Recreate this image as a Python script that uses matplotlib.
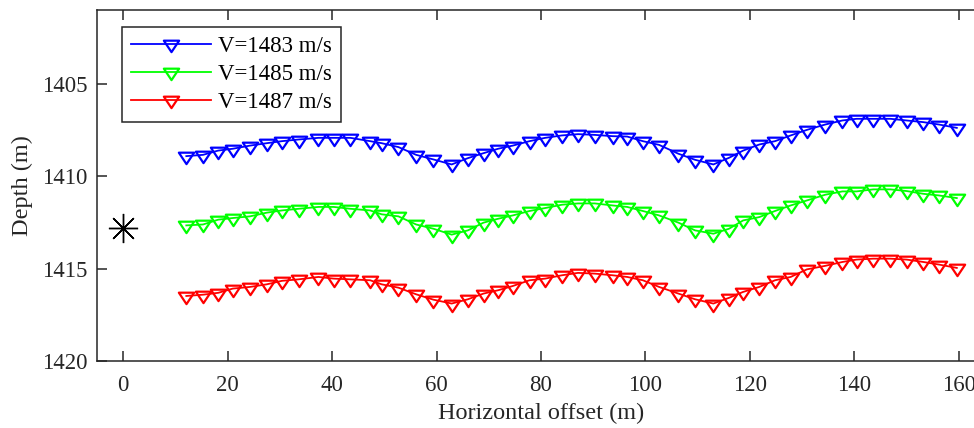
import matplotlib
matplotlib.use('Agg')
import matplotlib.pyplot as plt
from matplotlib.path import Path

plt.rcParams['font.family'] = ['Liberation Serif', 'DejaVu Serif']
plt.rcParams['font.size'] = 16.5

# receiver positions (m), shared by all three velocity models
offset = [12.1, 15.3, 18.2, 21.0, 24.3, 27.5, 30.4, 33.6, 37.4, 40.3, 43.5, 47.3,
          49.5, 52.7, 56.1, 59.4, 62.9, 66.0, 69.0, 71.8, 74.6, 77.8, 80.8, 84.0,
          87.1, 90.3, 93.7, 96.5, 99.5, 102.6, 106.3, 109.5, 113.0, 116.0, 118.7,
          121.8, 124.8, 127.8, 130.9, 134.4, 137.7, 140.4, 143.6, 146.9, 150.0,
          153.2, 156.2, 159.6]

depth_1483 = [1408.91, 1408.84, 1408.61, 1408.51, 1408.34, 1408.21, 1408.10, 1408.01,
              1407.92, 1407.92, 1407.92, 1408.10, 1408.21, 1408.42, 1408.84, 1409.09,
              1409.36, 1409.02, 1408.75, 1408.51, 1408.34, 1408.10, 1407.92, 1407.79,
              1407.72, 1407.76, 1407.83, 1407.85, 1408.10, 1408.30, 1408.78, 1409.11,
              1409.36, 1409.00, 1408.61, 1408.28, 1408.10, 1407.79, 1407.49, 1407.20,
              1406.98, 1406.89, 1406.89, 1406.89, 1406.98, 1407.07, 1407.20, 1407.38]

depth_1485 = [1412.66, 1412.61, 1412.35, 1412.26, 1412.17, 1411.97, 1411.85, 1411.76,
              1411.66, 1411.66, 1411.76, 1411.85, 1412.06, 1412.17, 1412.61, 1412.84,
              1413.16, 1412.93, 1412.51, 1412.30, 1412.12, 1411.88, 1411.72, 1411.54,
              1411.47, 1411.47, 1411.58, 1411.66, 1411.88, 1412.12, 1412.51, 1412.93,
              1413.11, 1412.84, 1412.39, 1412.21, 1411.88, 1411.58, 1411.31, 1411.00,
              1410.82, 1410.82, 1410.71, 1410.71, 1410.80, 1410.95, 1411.04, 1411.18]

depth_1487 = [1416.48, 1416.41, 1416.31, 1416.08, 1415.99, 1415.85, 1415.66, 1415.58,
              1415.45, 1415.54, 1415.58, 1415.63, 1415.85, 1416.03, 1416.39, 1416.68,
              1416.89, 1416.66, 1416.35, 1416.17, 1415.94, 1415.63, 1415.54, 1415.36,
              1415.23, 1415.27, 1415.36, 1415.45, 1415.63, 1415.99, 1416.35, 1416.66,
              1416.89, 1416.58, 1416.26, 1415.99, 1415.63, 1415.45, 1415.04, 1414.85,
              1414.64, 1414.51, 1414.46, 1414.46, 1414.51, 1414.64, 1414.78, 1414.96]

labels = ['V=1483 m/s', 'V=1485 m/s', 'V=1487 m/s']
colors = ['#0000ff', '#00ff00', '#ff0000']

source_x = [0]
source_z = [1412.8]

# downward triangle centred on its centroid (like MATLAB 'v')
tri_down = Path([(-1, 0.5), (1, 0.5), (0, -1), (-1, 0.5)],
                [Path.MOVETO, Path.LINETO, Path.LINETO, Path.CLOSEPOLY])

axc = '#262626'
fig = plt.figure(figsize=(9.74, 4.28), dpi=100)
ax = fig.add_axes([97 / 974, 67 / 428, 888 / 974, 351 / 428])

for z, lab, c in zip([depth_1483, depth_1485, depth_1487], labels, colors):
    ax.plot(offset, z, color=c, linewidth=1.3, marker=tri_down, markersize=11,
            markerfacecolor='none', markeredgecolor=c, markeredgewidth=1.6, label=lab)

ax.plot(source_x, source_z, linestyle='none', marker=(8, 2, 0), markersize=21,
        markeredgecolor='black', markeredgewidth=1.0, color='black')

ax.set_xlim(-5, 165)
ax.set_ylim(1420, 1401)
ax.set_xticks(range(0, 161, 20))
ax.set_yticks([1405, 1410, 1415, 1420])

for s in ax.spines.values():
    s.set_color(axc)
    s.set_linewidth(1.1)
ax.tick_params(direction='in', length=7.5, width=1.1, color=axc, labelcolor=axc,
               top=True, right=True, labelsize=16.5)
ax.tick_params(axis='x', pad=10)
ax.tick_params(axis='y', pad=7)

ax.set_xlabel('Horizontal offset (m)', color=axc, fontsize=17.5, labelpad=5)
ax.set_ylabel('Depth (m)', color=axc, fontsize=17.5, labelpad=6)

leg = ax.legend(loc='upper left', bbox_to_anchor=(0.028, 0.952), numpoints=1,
                fancybox=False, framealpha=1, edgecolor=axc, fontsize=16.5,
                handlelength=3.5, handletextpad=0.3, labelspacing=0.3,
                borderpad=0.4, borderaxespad=0)
leg.get_frame().set_linewidth(1.1)

fig.savefig('out.png', dpi=100)
